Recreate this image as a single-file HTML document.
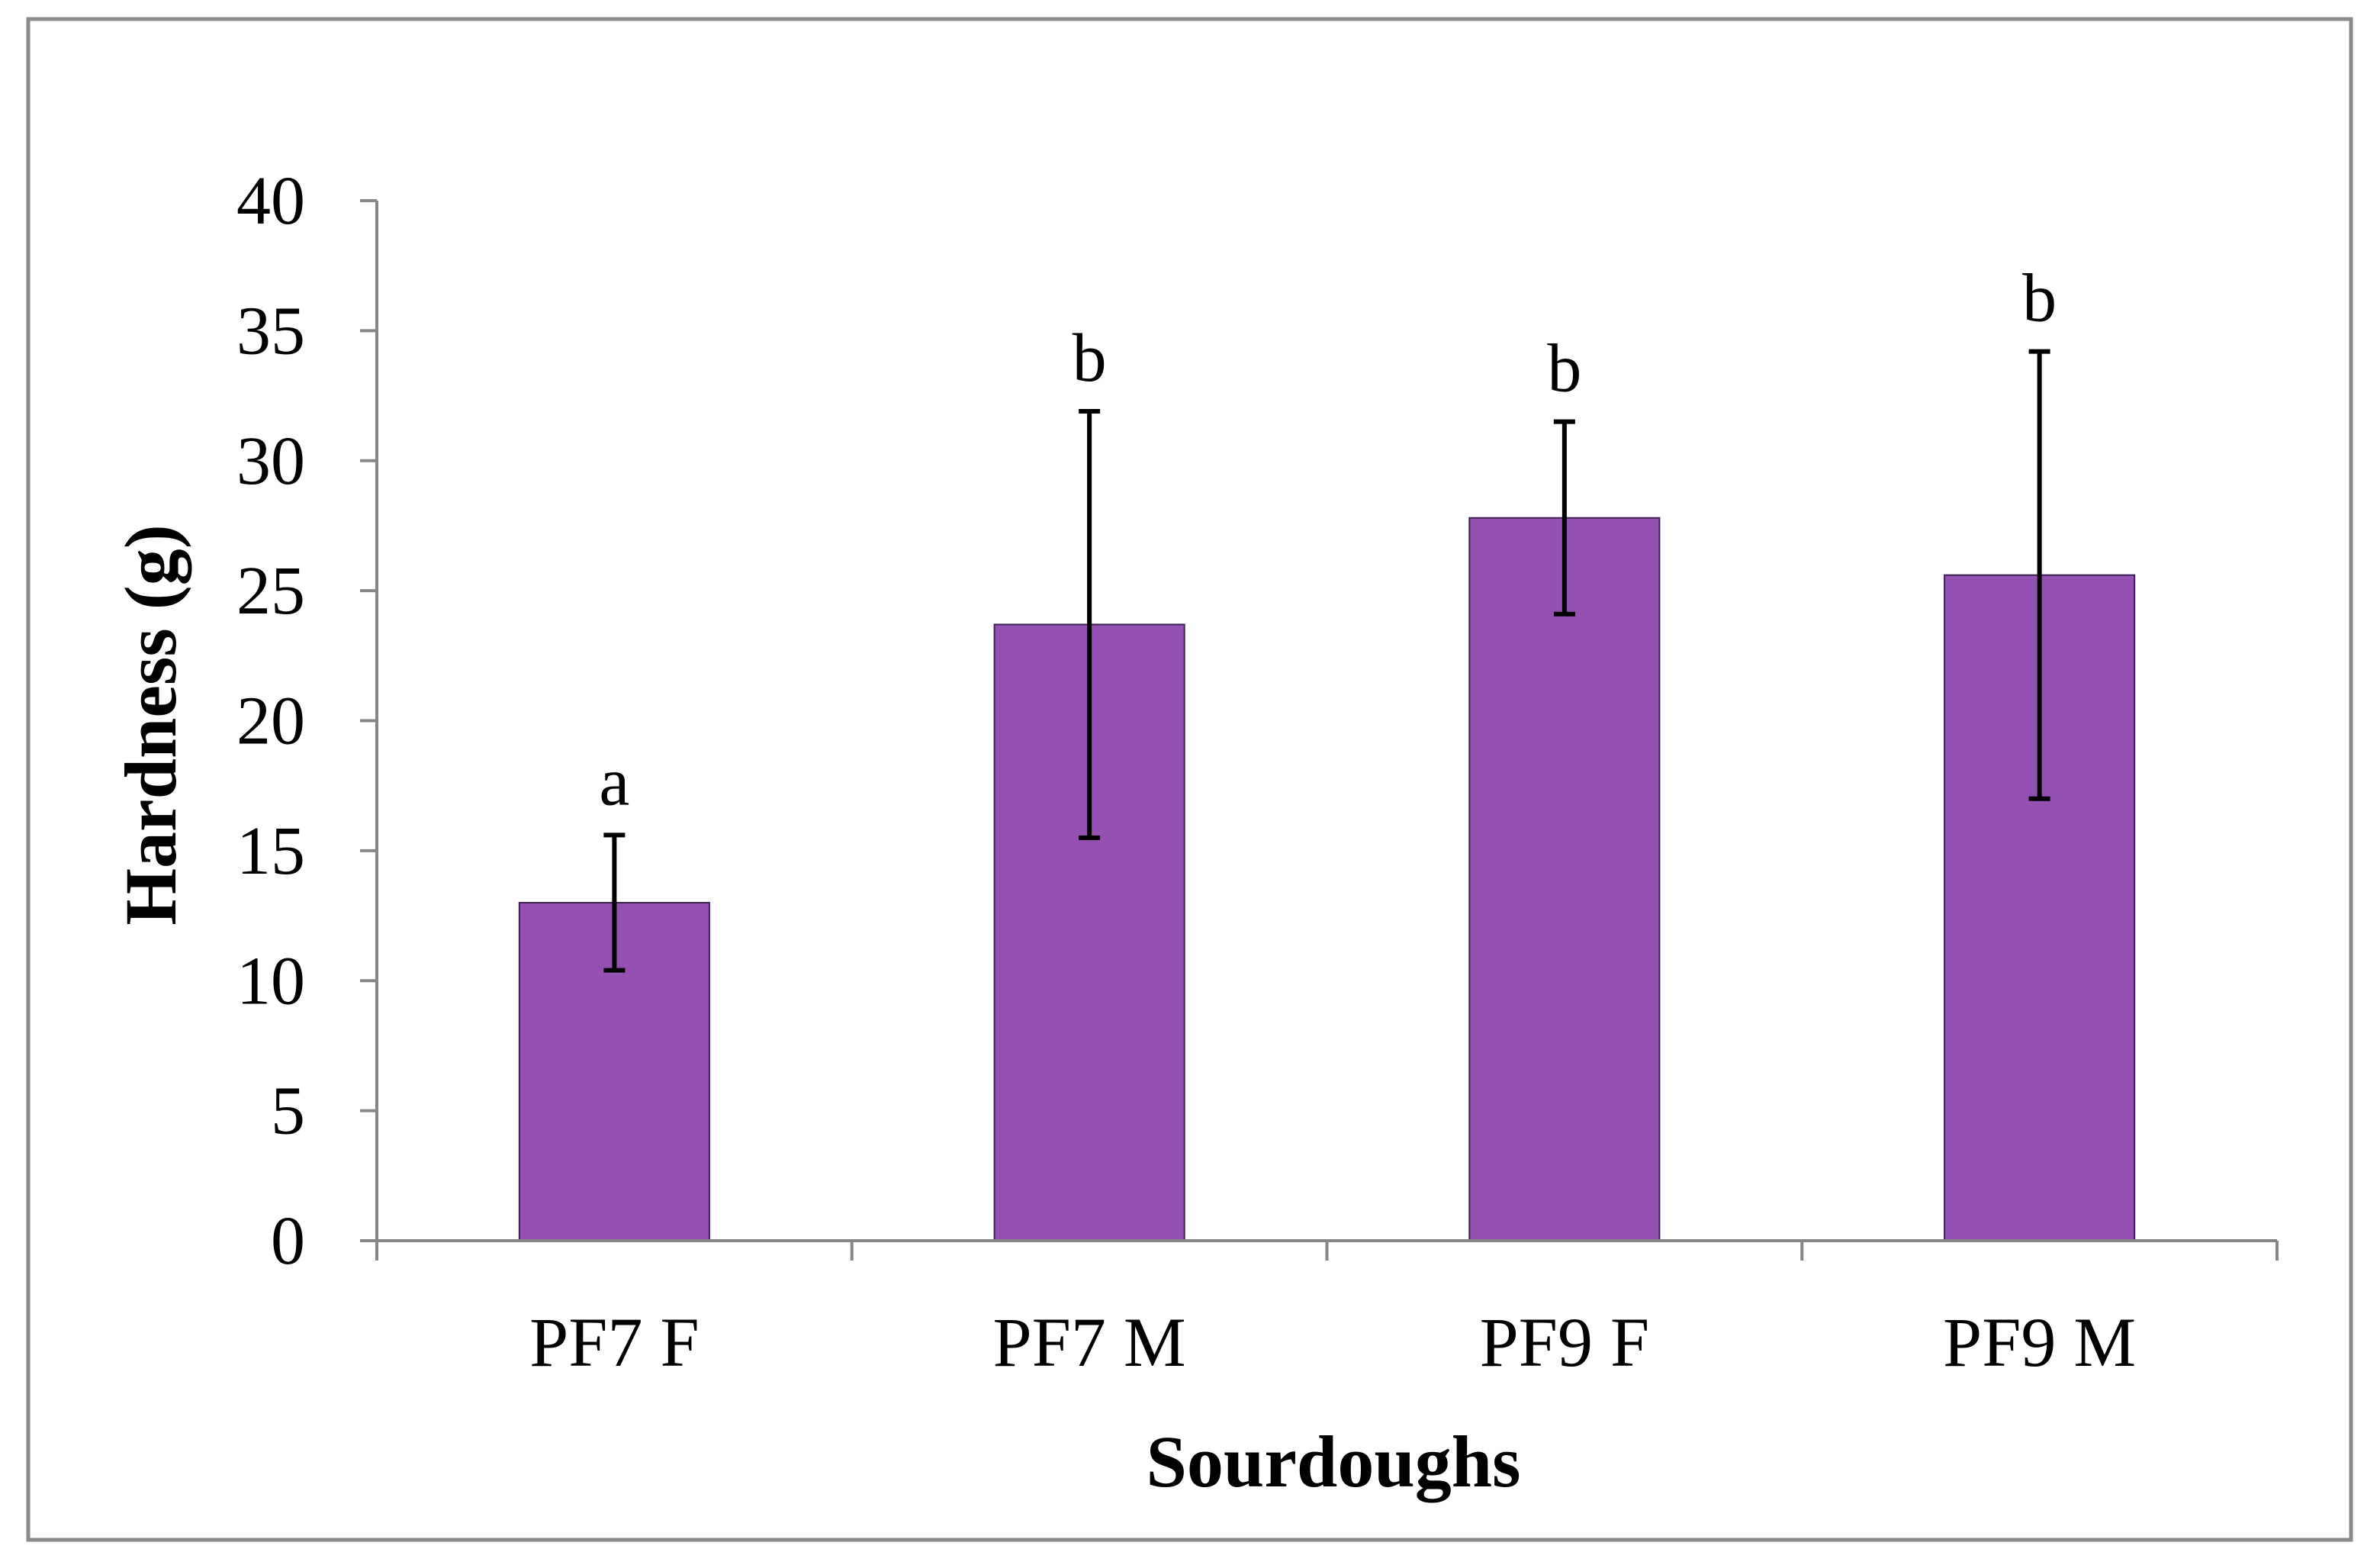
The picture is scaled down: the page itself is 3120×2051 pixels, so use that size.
<!DOCTYPE html>
<html><head><meta charset="utf-8"><style>
html,body{margin:0;padding:0;background:#fff;}
svg{display:block;}
text{font-family:"Liberation Serif",serif;fill:#000;}
</style></head><body>
<svg id="chart" width="3120" height="2051" viewBox="0 0 3120 2051" xmlns="http://www.w3.org/2000/svg">
<rect x="37" y="25" width="3045" height="1993" fill="#fff" stroke="#8a8a8a" stroke-width="5"/>
<g id="plot"></g>
</svg>
<script>
const categories = ["PF7 F","PF7 M","PF9 F","PF9 M"];
const values = [13.0, 23.7, 27.8, 25.6];
const errors = [2.6, 8.2, 3.7, 8.6];
const letters = ["a","b","b","b"];
const yTicks = [0,5,10,15,20,25,30,35,40];

const X0 = 494, X1 = 2985, Y0 = 1626, Y1 = 263, YMAX = 40;
const catW = (X1 - X0) / categories.length;
const barW = catW * 0.4;
const yScale = v => Y0 - (v / YMAX) * (Y0 - Y1);
const xCenter = i => X0 + catW * (i + 0.5);
const NS = "http://www.w3.org/2000/svg";
const g = document.getElementById("plot");
function mk(tag, attrs, text){
  const el = document.createElementNS(NS, tag);
  for (const k in attrs) el.setAttribute(k, attrs[k]);
  if (text !== undefined) el.textContent = text;
  g.appendChild(el);
  return el;
}
categories.forEach((c,i)=>{
  const y = yScale(values[i]);
  const b = mk("rect",{x:xCenter(i)-barW/2,y:y,width:barW,height:Y0-y,fill:"#9551b1",stroke:"#3d2050","stroke-width":2});
  
  
  const top = yScale(values[i]+errors[i]), bot = yScale(values[i]-errors[i]), cx = xCenter(i);
  const e = mk("path",{d:`M${cx} ${top}V${bot}M${cx-14} ${top}H${cx+14}M${cx-14} ${bot}H${cx+14}`,stroke:"#000","stroke-width":6,fill:"none"});
  
  
  const l = mk("text",{x:cx,y:top-40,"text-anchor":"middle","font-size":90},letters[i]);
  
  
  const t = mk("text",{x:cx,y:1790,"text-anchor":"middle","font-size":92},c);
  
  
});
const ya = mk("path",{d:`M${X0} ${Y1}V${Y0}`,stroke:"#868686","stroke-width":4,fill:"none"});


const xa = mk("path",{d:`M${X0} ${Y0}H${X1}`,stroke:"#868686","stroke-width":4,fill:"none"});


yTicks.forEach(v=>{
  const y = yScale(v);
  const tk = mk("path",{d:`M${X0-22} ${y}H${X0}`,stroke:"#868686","stroke-width":4});
  
  
  const lb = mk("text",{x:400,y:y+30,"text-anchor":"end","font-size":90},String(v));
  
  
});
for (let i=0;i<=categories.length;i++){
  const x = X0 + catW*i;
  const tk = mk("path",{d:`M${x} ${Y0}V${Y0+26}`,stroke:"#868686","stroke-width":4});
  
  
}
const yt = mk("text",{x:0,y:0,transform:"translate(230 950) rotate(-90)","text-anchor":"middle","font-size":96,"font-weight":"bold"},"Hardness (g)");


const xt = mk("text",{x:1748,y:1948,"text-anchor":"middle","font-size":96,"font-weight":"bold"},"Sourdoughs");


</script>
</body></html>
